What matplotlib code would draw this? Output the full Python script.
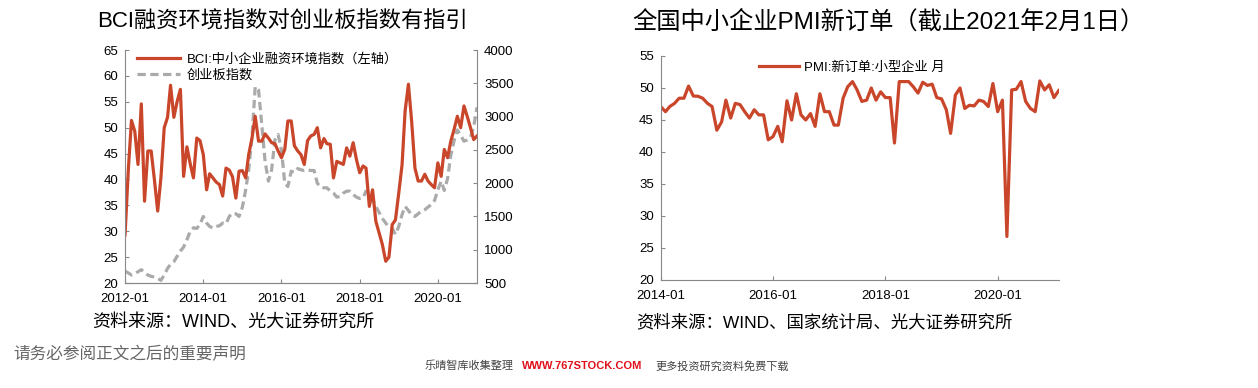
import pandas as pd
import matplotlib
matplotlib.use("Agg")
from matplotlib import pyplot as plt
import matplotlib.dates as mdates

plt.rcParams['font.family'] = ['Liberation Sans', 'Noto Sans CJK SC', 'DejaVu Sans']

RED = "#C9462B"
GRAY = "#AAAAAA"

# BCI 中小企业融资环境指数, monthly 2012-01 .. 2021-01
bci_dates = pd.date_range("2012-01-01", periods=109, freq="MS")
bci = [29.3, 42.0, 51.4, 49.3, 42.9, 54.6, 35.8, 45.5, 45.5, 40.0,
       33.9, 40.3, 50.0, 52.0, 58.2, 52.0, 55.0, 57.4, 40.6, 46.3,
       43.0, 40.3, 48.0, 47.5, 44.8, 38.0, 41.1, 40.3, 39.5, 39.0,
       36.8, 42.2, 41.8, 40.5, 36.4, 41.6, 41.7, 40.3, 44.8, 48.0,
       52.2, 47.4, 47.4, 48.8, 48.0, 47.1, 46.9, 45.5, 44.2, 45.8,
       51.3, 51.3, 46.5, 45.5, 44.8, 42.9, 47.5, 48.4, 48.7, 50.0,
       46.1, 47.9, 46.9, 46.8, 40.3, 43.5, 43.2, 42.9, 46.1, 44.5,
       47.1, 43.9, 41.3, 42.6, 42.2, 34.8, 38.0, 31.9, 29.7, 27.4,
       24.2, 25.0, 31.3, 32.2, 37.4, 42.9, 53.2, 58.4, 51.3, 42.2,
       39.7, 39.7, 41.0, 39.7, 39.0, 38.4, 43.2, 40.6, 45.8, 44.2,
       47.4, 49.7, 52.2, 50.0, 54.2, 52.2, 50.0, 47.7, 48.4]

# 创业板指数 (右轴)
cyb = [680, 650, 620, 640, 670, 700, 660, 620, 600, 590,
       570, 540, 620, 720, 780, 820, 900, 980, 1040, 1150,
       1280, 1330, 1320, 1380, 1500, 1400, 1350, 1325, 1350, 1360,
       1400, 1390, 1500, 1550, 1540, 1500, 1640, 1900, 2200, 2700,
       3450, 3400, 2880, 2330, 2030, 2200, 2650, 2730, 2500, 2000,
       1950, 2180, 2160, 2220, 2200, 2190, 2200, 2190, 2190, 2000,
       1940, 1930, 1930, 1880, 1850, 1790, 1800, 1850, 1880, 1880,
       1830, 1790, 1770, 1780, 1880, 1870, 1760, 1650, 1560, 1470,
       1400, 1340, 1320, 1230, 1350, 1530, 1650, 1590, 1520, 1500,
       1540, 1580, 1600, 1640, 1680, 1740, 1900, 2030, 1890, 2070,
       2420, 2640, 2800, 2720, 2630, 2650, 2690, 2850, 3140]

# PMI 新订单: 小型企业, monthly 2014-01 .. 2021-02
pmi_dates = pd.date_range("2014-01-01", periods=86, freq="MS")
pmi = [47.1, 46.3, 47.1, 47.6, 48.4, 48.4, 50.3, 48.75, 48.7, 48.4,
       47.6, 47.1, 43.4, 44.7, 48.1, 45.3, 47.6, 47.4, 46.3, 45.3,
       46.6, 45.8, 45.8, 41.9, 42.4, 44.0, 41.6, 48.0, 45.0, 49.1,
       45.8, 45.0, 46.0, 44.0, 49.1, 46.3, 46.3, 44.2, 44.2, 48.4,
       50.2, 51.0, 49.7, 47.9, 48.1, 50.0, 48.1, 49.4, 48.5, 48.5,
       41.4, 51.0, 51.0, 51.0, 50.2, 49.2, 50.9, 50.4, 50.6, 48.5,
       48.3, 46.6, 42.9, 48.9, 50.0, 46.8, 47.3, 47.2, 48.1, 47.9,
       47.1, 50.7, 46.3, 48.1, 26.8, 49.7, 49.8, 51.0, 47.9, 46.8,
       46.3, 51.1, 49.7, 50.5, 48.5, 49.6]

fig = plt.figure(figsize=(12.58, 3.88), dpi=100)


def style_axis(ax, spines):
    for s in ["top", "right", "left", "bottom"]:
        ax.spines[s].set_visible(s in spines)
        ax.spines[s].set_color("#888888")
    ax.tick_params(direction="in", labelsize=9.5, colors="#888888",
                   labelcolor="black", length=3)
    ax.tick_params(axis="x", pad=7)
    ax.tick_params(axis="y", pad=5)


# ---- left chart
ax1 = fig.add_axes([0.0994, 0.2706, 0.2798, 0.6005])
ax2 = ax1.twinx()
l1, = ax1.plot(bci_dates, bci, color=RED, lw=2.3, label="BCI:中小企业融资环境指数（左轴）")
l2, = ax2.plot(bci_dates, cyb, color=GRAY, lw=2.3, ls=(0, (2.6, 1.4)), label="创业板指数")
ax1.set_ylim(20, 65)
ax1.set_yticks(range(20, 66, 5))
ax2.set_ylim(500, 4000)
ax2.set_yticks(range(500, 4001, 500))
ax1.set_xlim(bci_dates[0], bci_dates[-1])
ax1.set_xticks(pd.to_datetime(["2012-01-01", "2014-01-01", "2016-01-01", "2018-01-01", "2020-01-01"]))
ax1.xaxis.set_major_formatter(mdates.DateFormatter("%Y-%m"))
style_axis(ax1, ["left", "bottom"])
style_axis(ax2, ["right", "bottom"])
ax1.set_zorder(ax2.get_zorder() + 1)
ax1.patch.set_visible(False)
ax1.legend(handles=[l1, l2], loc="upper left", bbox_to_anchor=(0.0, 1.04), frameon=False,
           fontsize=9.5, handlelength=3.3, handletextpad=0.5, labelspacing=0.3)

# ---- right chart
ax3 = fig.add_axes([0.5252, 0.2784, 0.3164, 0.5773])
l3, = ax3.plot(pmi_dates, pmi, color=RED, lw=2.3, label="PMI:新订单:小型企业 月")
ax3.set_ylim(20, 55)
ax3.set_yticks(range(20, 56, 5))
ax3.set_xlim(pmi_dates[0], pmi_dates[-1])
ax3.set_xticks(pd.to_datetime(["2014-01-01", "2016-01-01", "2018-01-01", "2020-01-01"]))
ax3.xaxis.set_major_formatter(mdates.DateFormatter("%Y-%m"))
style_axis(ax3, ["left", "bottom"])
ax3.legend(handles=[l3], loc="upper center", bbox_to_anchor=(0.48, 1.03), frameon=False,
           fontsize=9.5, handlelength=3.0, handletextpad=0.4)

# ---- titles and notes
fig.text(97 / 1258, 1 - 22 / 388, "BCI融资环境指数对创业板指数有指引", fontsize=16,
         va="center", ha="left", fontweight="medium")
fig.text(632 / 1258, 1 - 22 / 388, "全国中小企业PMI新订单（截止2021年2月1日）", fontsize=17.5,
         va="center", ha="left", fontweight="medium")
fig.text(92 / 1258, 1 - 322 / 388, "资料来源：WIND、光大证券研究所", fontsize=13,
         va="center", ha="left")
fig.text(636 / 1258, 1 - 322 / 388, "资料来源：WIND、国家统计局、光大证券研究所", fontsize=12.5,
         va="center", ha="left")
fig.text(13 / 1258, 1 - 354 / 388, "请务必参阅正文之后的重要声明", fontsize=12,
         va="center", ha="left", color="#666666")
fig.text(425 / 1258, 1 - 366 / 388, "乐晴智库收集整理", fontsize=8, va="center", ha="left", color="#444444")
fig.text(522 / 1258, 1 - 366 / 388, "WWW.767STOCK.COM", fontsize=8, va="center", ha="left",
         color="#E0101A", fontweight="bold")
fig.text(655 / 1258, 1 - 366 / 388, "更多投资研究资料免费下载", fontsize=8, va="center", ha="left", color="#444444")

fig.savefig("out.png", dpi=100)
